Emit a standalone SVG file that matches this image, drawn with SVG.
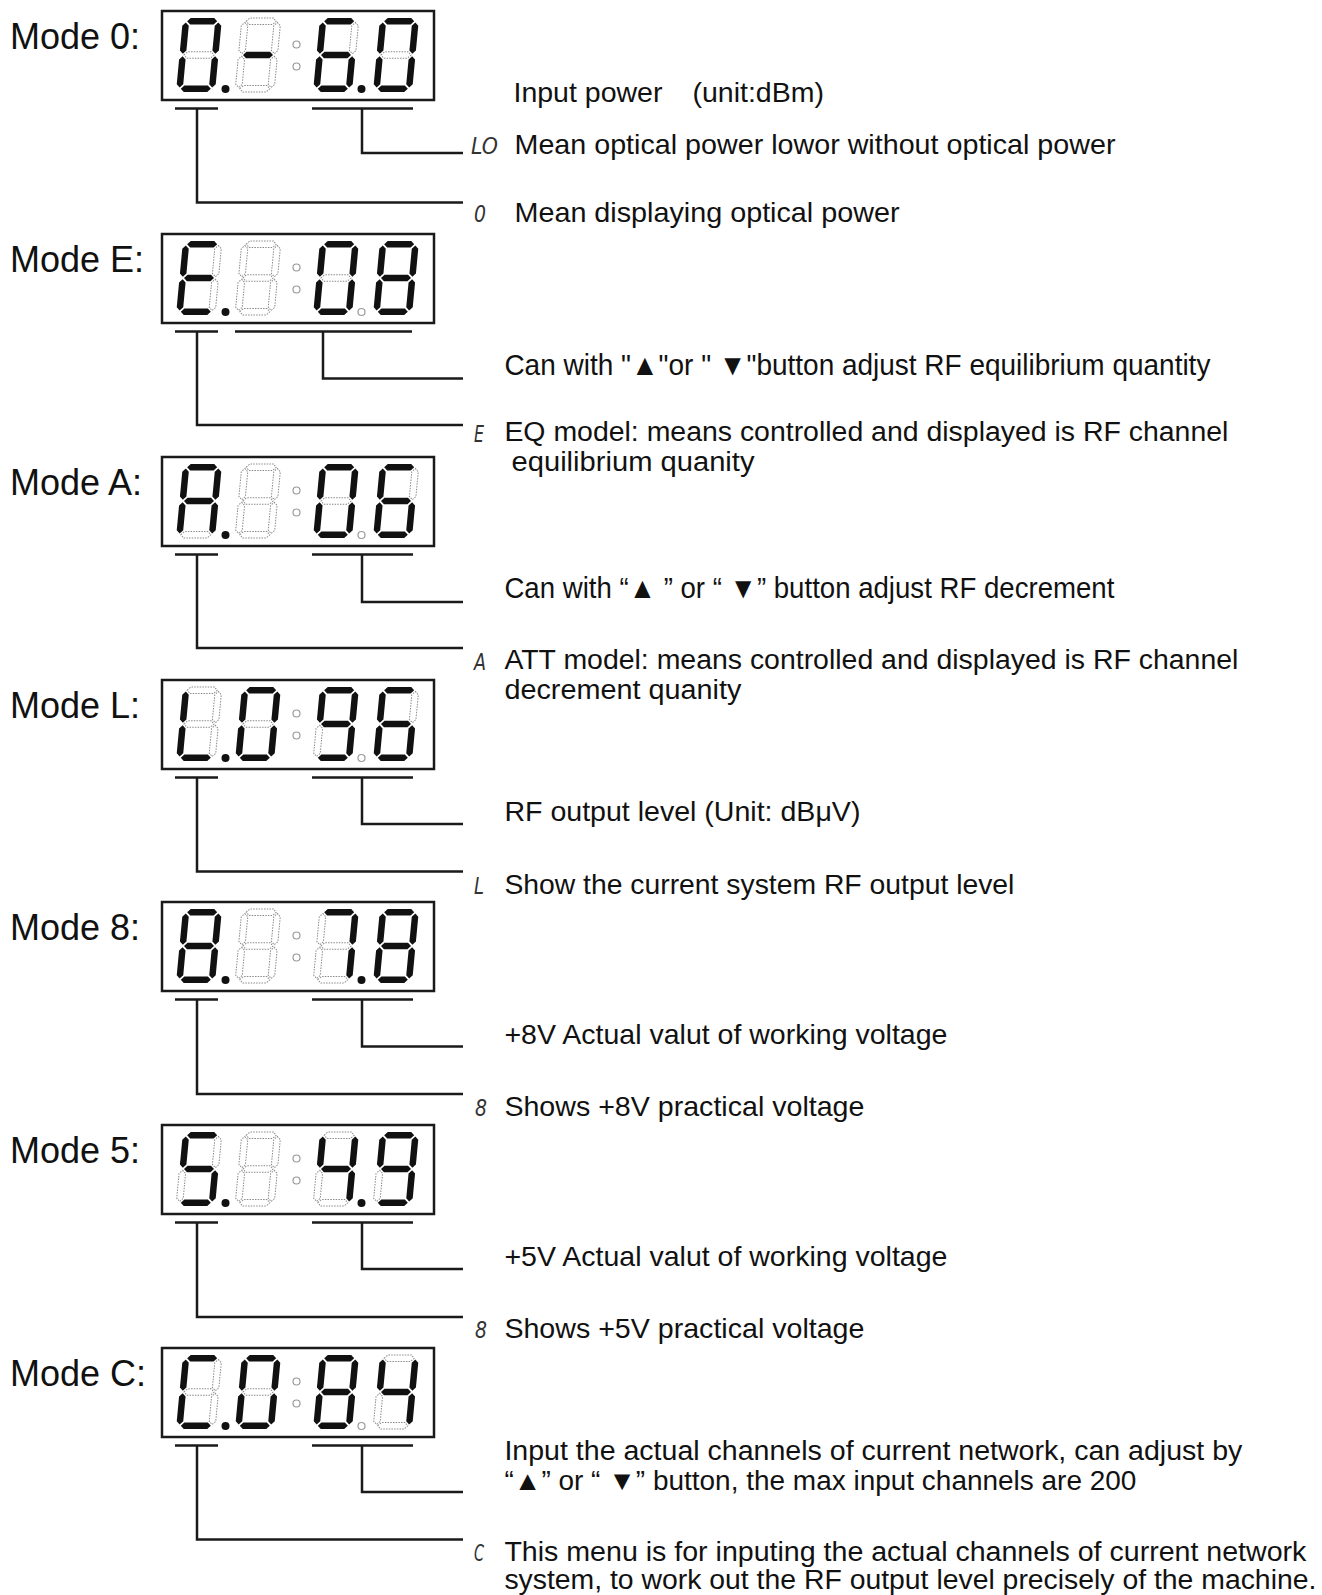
<svg xmlns="http://www.w3.org/2000/svg" width="1322" height="1595" viewBox="0 0 1322 1595">
<style>
.lbl{font-family:"Liberation Sans",Arial,sans-serif;font-size:36px;fill:#111}
.t{font-family:"Liberation Sans",Arial,sans-serif;font-size:28.5px;fill:#111}
.tc{font-family:"Liberation Sans",Arial,sans-serif;font-size:29.5px;fill:#111}
.tc2{font-family:"Liberation Sans",Arial,sans-serif;font-size:27px;fill:#111}
.s7{font-family:"DejaVu Sans",sans-serif;font-style:oblique;font-size:23px;fill:#333}
.box{fill:#fff;stroke:#1a1a1a;stroke-width:2.5}
.on{fill:#111;stroke:none}
.off{fill:none;stroke:#8a8a8a;stroke-width:1;stroke-dasharray:1.5 1.2}
.dpon{fill:#111}
.dpoff{fill:#fff;stroke:#999;stroke-width:1.2}
.conn{fill:none;stroke:#1a1a1a;stroke-width:2.5}
</style>
<defs>
<polygon id="sa" points="4.5,-70.75 7.75,-74 31.25,-74 34.5,-70.75 31.25,-67.5 7.75,-67.5"/>
<polygon id="sb" points="35.75,-69.5 39,-66.25 39,-41.5 35.75,-38.25 32.5,-41.5 32.5,-66.25"/>
<polygon id="sc" points="35.75,-35.75 39,-32.5 39,-7.75 35.75,-4.5 32.5,-7.75 32.5,-32.5"/>
<polygon id="sd" points="4.5,-3.25 7.75,-6.5 31.25,-6.5 34.5,-3.25 31.25,0 7.75,0"/>
<polygon id="se" points="3.25,-35.75 6.5,-32.5 6.5,-7.75 3.25,-4.5 0,-7.75 0,-32.5"/>
<polygon id="sf" points="3.25,-69.5 6.5,-66.25 6.5,-41.5 3.25,-38.25 0,-41.5 0,-66.25"/>
<polygon id="sg" points="4.5,-37 7.75,-40.25 31.25,-40.25 34.5,-37 31.25,-33.75 7.75,-33.75"/>
<g id="G0"><use href="#sa" class="on"/><use href="#sb" class="on"/><use href="#sc" class="on"/><use href="#sd" class="on"/><use href="#se" class="on"/><use href="#sf" class="on"/><use href="#sg" class="off"/></g>
<g id="Gm"><use href="#sa" class="off"/><use href="#sb" class="off"/><use href="#sc" class="off"/><use href="#sd" class="off"/><use href="#se" class="off"/><use href="#sf" class="off"/><use href="#sg" class="on"/></g>
<g id="G6"><use href="#sa" class="on"/><use href="#sb" class="off"/><use href="#sc" class="on"/><use href="#sd" class="on"/><use href="#se" class="on"/><use href="#sf" class="on"/><use href="#sg" class="on"/></g>
<g id="GE"><use href="#sa" class="on"/><use href="#sb" class="off"/><use href="#sc" class="off"/><use href="#sd" class="on"/><use href="#se" class="on"/><use href="#sf" class="on"/><use href="#sg" class="on"/></g>
<g id="Gx"><use href="#sa" class="off"/><use href="#sb" class="off"/><use href="#sc" class="off"/><use href="#sd" class="off"/><use href="#se" class="off"/><use href="#sf" class="off"/><use href="#sg" class="off"/></g>
<g id="G8"><use href="#sa" class="on"/><use href="#sb" class="on"/><use href="#sc" class="on"/><use href="#sd" class="on"/><use href="#se" class="on"/><use href="#sf" class="on"/><use href="#sg" class="on"/></g>
<g id="GA"><use href="#sa" class="on"/><use href="#sb" class="on"/><use href="#sc" class="on"/><use href="#sd" class="off"/><use href="#se" class="on"/><use href="#sf" class="on"/><use href="#sg" class="on"/></g>
<g id="GL"><use href="#sa" class="off"/><use href="#sb" class="off"/><use href="#sc" class="off"/><use href="#sd" class="on"/><use href="#se" class="on"/><use href="#sf" class="on"/><use href="#sg" class="off"/></g>
<g id="G9"><use href="#sa" class="on"/><use href="#sb" class="on"/><use href="#sc" class="on"/><use href="#sd" class="on"/><use href="#se" class="off"/><use href="#sf" class="on"/><use href="#sg" class="on"/></g>
<g id="G7"><use href="#sa" class="on"/><use href="#sb" class="on"/><use href="#sc" class="on"/><use href="#sd" class="off"/><use href="#se" class="off"/><use href="#sf" class="off"/><use href="#sg" class="off"/></g>
<g id="G5"><use href="#sa" class="on"/><use href="#sb" class="off"/><use href="#sc" class="on"/><use href="#sd" class="on"/><use href="#se" class="off"/><use href="#sf" class="on"/><use href="#sg" class="on"/></g>
<g id="G4"><use href="#sa" class="off"/><use href="#sb" class="on"/><use href="#sc" class="on"/><use href="#sd" class="off"/><use href="#se" class="off"/><use href="#sf" class="on"/><use href="#sg" class="on"/></g>
<g id="GC"><use href="#sa" class="on"/><use href="#sb" class="off"/><use href="#sc" class="off"/><use href="#sd" class="on"/><use href="#se" class="on"/><use href="#sf" class="on"/><use href="#sg" class="off"/></g>
<g id="frame">
<rect class="box" x="0" y="0" width="272" height="89"/>
<circle class="dpoff" cx="134.5" cy="33.5" r="3.5"/>
<circle class="dpoff" cx="134.5" cy="55.5" r="3.5"/>
</g>
</defs>
<rect width="1322" height="1595" fill="#fff"/>

<g id="connectors">
<path class="conn" d="M175 108.5H218M312 108.5H413M362 108.5V153H463M197 108.5V202.5H463"/>
<path class="conn" d="M175 331.5H218M235 331.5H412M323 331.5V378.5H463M197 331.5V425H463"/>
<path class="conn" d="M175 554.5H218M312 554.5H413M362 554.5V602H463M197 554.5V648H463"/>
<path class="conn" d="M175 777.5H218M312 777.5H413M362 777.5V824H463M197 777.5V871.5H463"/>
<path class="conn" d="M175 999.5H218M312 999.5H413M362 999.5V1046.5H463M197 999.5V1094H463"/>
<path class="conn" d="M175 1222.5H218M312 1222.5H413M362 1222.5V1269H463M197 1222.5V1317H463"/>
<path class="conn" d="M175 1445.5H218M312 1445.5H413M362 1445.5V1492H463M197 1445.5V1539.5H463"/>
</g>

<g id="mode-0">
<text class="lbl" x="10" y="48.5">Mode 0:</text>
<g id="display-0" transform="translate(162,11)">
<use href="#frame"/>
<use href="#G0" transform="translate(14,81) skewX(-5.4)"/>
<use href="#Gm" transform="translate(73,81) skewX(-5.4)"/>
<use href="#G6" transform="translate(151,81) skewX(-5.4)"/>
<use href="#G0" transform="translate(211,81) skewX(-5.4)"/>
<circle class="dpon" cx="63.5" cy="78" r="4"/>
<circle class="dpon" cx="199.5" cy="78" r="4"/>
</g>
</g>
<g id="desc-0a"><text class="t" y="102"><tspan x="513.5">Input power</tspan><tspan x="692.5">(unit:dBm)</tspan></text></g>
<g id="desc-0b"><text class="s7" x="471" y="154" textLength="27" lengthAdjust="spacingAndGlyphs">LO</text>
<text class="t" x="514.5" y="154" textLength="601" lengthAdjust="spacingAndGlyphs">Mean optical power lowor without optical power</text></g>
<g id="desc-0c"><text class="s7" x="474" y="222" textLength="12" lengthAdjust="spacingAndGlyphs">0</text>
<text class="t" x="514.5" y="222" textLength="385" lengthAdjust="spacingAndGlyphs">Mean displaying optical power</text></g>

<g id="mode-E">
<text class="lbl" x="10" y="271.5">Mode E:</text>
<g id="display-E" transform="translate(162,234)">
<use href="#frame"/>
<use href="#GE" transform="translate(14,81) skewX(-5.4)"/>
<use href="#Gx" transform="translate(73,81) skewX(-5.4)"/>
<use href="#G0" transform="translate(151,81) skewX(-5.4)"/>
<use href="#G8" transform="translate(211,81) skewX(-5.4)"/>
<circle class="dpon" cx="63.5" cy="78" r="4"/>
<circle class="dpoff" cx="199.5" cy="78" r="3.5"/>
</g>
</g>
<g id="desc-Ea"><text class="tc" x="504.4" y="374.5" textLength="706" lengthAdjust="spacingAndGlyphs">Can with "▲"or " ▼"button adjust RF equilibrium quantity</text></g>
<g id="desc-Eb"><text class="s7" x="474" y="442" textLength="10" lengthAdjust="spacingAndGlyphs">E</text>
<text class="tc2" x="504.4" y="441" textLength="724" lengthAdjust="spacingAndGlyphs">EQ model: means controlled and displayed is RF channel</text>
<text class="tc2" x="511.5" y="471" textLength="243" lengthAdjust="spacingAndGlyphs">equilibrium quanity</text></g>

<g id="mode-A">
<text class="lbl" x="10" y="494.5">Mode A:</text>
<g id="display-A" transform="translate(162,457)">
<use href="#frame"/>
<use href="#GA" transform="translate(14,81) skewX(-5.4)"/>
<use href="#Gx" transform="translate(73,81) skewX(-5.4)"/>
<use href="#G0" transform="translate(151,81) skewX(-5.4)"/>
<use href="#G6" transform="translate(211,81) skewX(-5.4)"/>
<circle class="dpon" cx="63.5" cy="78" r="4"/>
<circle class="dpoff" cx="199.5" cy="78" r="3.5"/>
</g>
</g>
<g id="desc-Aa"><text class="tc" x="504.4" y="598" textLength="610" lengthAdjust="spacingAndGlyphs">Can with “▲ ” or “ ▼” button adjust RF decrement</text></g>
<g id="desc-Ab"><text class="s7" x="474" y="670" textLength="12" lengthAdjust="spacingAndGlyphs">A</text>
<text class="tc2" x="504.4" y="669" textLength="734" lengthAdjust="spacingAndGlyphs">ATT model: means controlled and displayed is RF channel</text>
<text class="tc2" x="504.4" y="699" textLength="237" lengthAdjust="spacingAndGlyphs">decrement quanity</text></g>

<g id="mode-L">
<text class="lbl" x="10" y="717.5">Mode L:</text>
<g id="display-L" transform="translate(162,680)">
<use href="#frame"/>
<use href="#GL" transform="translate(14,81) skewX(-5.4)"/>
<use href="#G0" transform="translate(73,81) skewX(-5.4)"/>
<use href="#G9" transform="translate(151,81) skewX(-5.4)"/>
<use href="#G6" transform="translate(211,81) skewX(-5.4)"/>
<circle class="dpon" cx="63.5" cy="78" r="4"/>
<circle class="dpoff" cx="199.5" cy="78" r="3.5"/>
</g>
</g>
<g id="desc-La"><text class="t" x="504.4" y="820.5" textLength="356" lengthAdjust="spacingAndGlyphs">RF output level (Unit: dBμV)</text></g>
<g id="desc-Lb"><text class="s7" x="474" y="894" textLength="10" lengthAdjust="spacingAndGlyphs">L</text>
<text class="t" x="504.4" y="894" textLength="510" lengthAdjust="spacingAndGlyphs">Show the current system RF output level</text></g>

<g id="mode-8">
<text class="lbl" x="10" y="939.5">Mode 8:</text>
<g id="display-8" transform="translate(162,902)">
<use href="#frame"/>
<use href="#G8" transform="translate(14,81) skewX(-5.4)"/>
<use href="#Gx" transform="translate(73,81) skewX(-5.4)"/>
<use href="#G7" transform="translate(151,81) skewX(-5.4)"/>
<use href="#G8" transform="translate(211,81) skewX(-5.4)"/>
<circle class="dpon" cx="63.5" cy="78" r="4"/>
<circle class="dpon" cx="199.5" cy="78" r="4"/>
</g>
</g>
<g id="desc-8a"><text class="t" x="504.4" y="1044" textLength="443" lengthAdjust="spacingAndGlyphs">+8V Actual valut of working voltage</text></g>
<g id="desc-8b"><text class="s7" x="475" y="1115.5" textLength="12" lengthAdjust="spacingAndGlyphs">8</text>
<text class="t" x="504.4" y="1115.5" textLength="360" lengthAdjust="spacingAndGlyphs">Shows +8V practical voltage</text></g>

<g id="mode-5">
<text class="lbl" x="10" y="1162.5">Mode 5:</text>
<g id="display-5" transform="translate(162,1125)">
<use href="#frame"/>
<use href="#G5" transform="translate(14,81) skewX(-5.4)"/>
<use href="#Gx" transform="translate(73,81) skewX(-5.4)"/>
<use href="#G4" transform="translate(151,81) skewX(-5.4)"/>
<use href="#G9" transform="translate(211,81) skewX(-5.4)"/>
<circle class="dpon" cx="63.5" cy="78" r="4"/>
<circle class="dpon" cx="199.5" cy="78" r="4"/>
</g>
</g>
<g id="desc-5a"><text class="t" x="504.4" y="1266" textLength="443" lengthAdjust="spacingAndGlyphs">+5V Actual valut of working voltage</text></g>
<g id="desc-5b"><text class="s7" x="475" y="1338" textLength="12" lengthAdjust="spacingAndGlyphs">8</text>
<text class="t" x="504.4" y="1338" textLength="360" lengthAdjust="spacingAndGlyphs">Shows +5V practical voltage</text></g>

<g id="mode-C">
<text class="lbl" x="10" y="1385.5">Mode C:</text>
<g id="display-C" transform="translate(162,1348)">
<use href="#frame"/>
<use href="#GC" transform="translate(14,81) skewX(-5.4)"/>
<use href="#G0" transform="translate(73,81) skewX(-5.4)"/>
<use href="#G8" transform="translate(151,81) skewX(-5.4)"/>
<use href="#G4" transform="translate(211,81) skewX(-5.4)"/>
<circle class="dpon" cx="63.5" cy="78" r="4"/>
<circle class="dpoff" cx="199.5" cy="78" r="3.5"/>
</g>
</g>
<g id="desc-Ca"><text class="tc2" x="504.4" y="1459.5" textLength="738" lengthAdjust="spacingAndGlyphs">Input the actual channels of current network, can adjust by</text>
<text class="tc2" x="504.4" y="1489.5" textLength="632" lengthAdjust="spacingAndGlyphs">“▲” or “ ▼” button, the max input channels are 200</text></g>
<g id="desc-Cb"><text class="s7" x="474" y="1561" textLength="10" lengthAdjust="spacingAndGlyphs">C</text>
<text class="tc2" x="504.4" y="1560.5" textLength="802" lengthAdjust="spacingAndGlyphs">This menu is for inputing the actual channels of current network</text>
<text class="tc2" x="504.4" y="1588.5" textLength="812" lengthAdjust="spacingAndGlyphs">system, to work out the RF output level precisely of the machine.</text></g>
</svg>
